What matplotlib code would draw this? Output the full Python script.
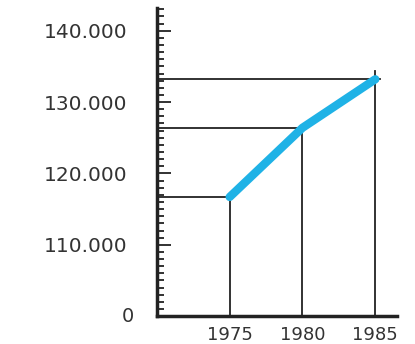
import matplotlib.pyplot as plt
from matplotlib.ticker import MultipleLocator

# Data
years = [1975, 1980, 1985]
values = [116700, 126400, 133200]
ytick_vals = [110000, 120000, 130000, 140000]
ytick_labels = ["110.000", "120.000", "130.000", "140.000"]

x_min, x_max = 1970, 1986.5
y_min, y_max = 100000, 143200

fig = plt.figure(figsize=(4.15, 3.44), dpi=100)
ax = fig.add_axes([0.378, 0.081, 0.579, 0.896])

# guide lines from the axes to each point
for i, (yr, v) in enumerate(zip(years, values)):
    last = i == len(years) - 1
    ax.plot([x_min, yr + (0.35 if last else 0)], [v, v], color="#222222", lw=1.3, zorder=2)
    ax.plot([yr, yr], [y_min, v + (1100 if last else 0)], color="#222222", lw=1.3, zorder=2)

ax.plot(years, values, color="#1fb2e6", lw=6, solid_capstyle="round", zorder=3)

ax.set_xlim(x_min, x_max)
ax.set_ylim(y_min, y_max)

for s in ["top", "right"]:
    ax.spines[s].set_visible(False)
for s in ["left", "bottom"]:
    ax.spines[s].set_linewidth(2.5)
    ax.spines[s].set_color("#222222")

ax.set_yticks(ytick_vals)
ax.set_yticklabels(ytick_labels)
ax.yaxis.set_minor_locator(MultipleLocator(1000))
ax.tick_params(axis="y", which="major", direction="in", length=10, width=1.3,
               pad=21, labelsize=14.5, labelcolor="#333333", color="#222222")
ax.tick_params(axis="y", which="minor", direction="in", length=5, width=1.3, color="#222222")

ax.set_xticks(years)
ax.set_xticklabels([str(y) for y in years])
ax.tick_params(axis="x", length=0, pad=7, labelsize=13, labelcolor="#333333")

ax.text(-0.12, 0.0, "0", transform=ax.transAxes, ha="center", va="center",
        fontsize=14, color="#333333")

plt.savefig("out.png", dpi=100)
